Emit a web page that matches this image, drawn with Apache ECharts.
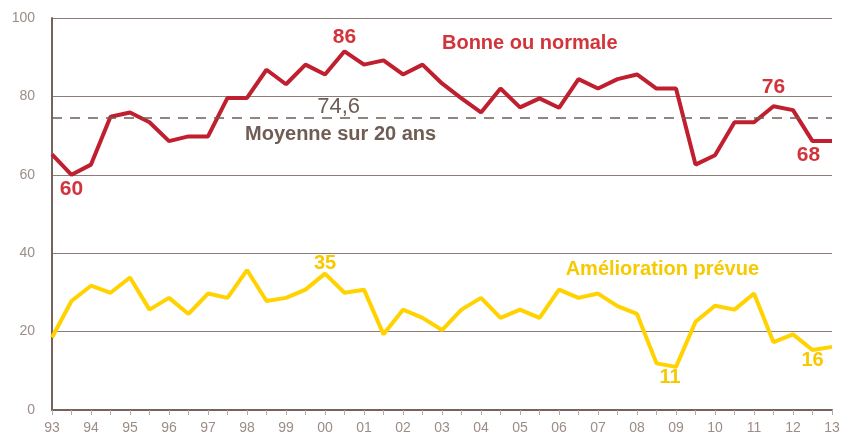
<!DOCTYPE html>
<html lang="fr">
<head>
    <meta charset="UTF-8">
    <title>Bonne ou normale / Amélioration prévue</title>
    <script src="https://cdn.jsdelivr.net/npm/echarts@6.0.0/dist/echarts.min.js"></script>
    <style>
        * {
            margin: 0;
            padding: 0;
            box-sizing: border-box;
        }

        body {
            background: #ffffff;
        }

        #chart {
            width: 852px;
            height: 437px;
        }
    </style>
</head>
<body>
    <div id="chart"></div>

    <script>
        // années (un point par semestre)
        const years = ['93', '94', '95', '96', '97', '98', '99', '00', '01', '02', '03',
                       '04', '05', '06', '07', '08', '09', '10', '11', '12', '13'];

        // Bonne ou normale
        const bonne = [65.2, 60, 62.6, 74.8, 75.9, 73.4, 68.6, 69.8, 69.8, 79.6, 79.6,
                       86.8, 83.1, 88.1, 85.6, 91.5, 88.1, 89.2, 85.6, 88.1, 83.3,
                       79.5, 75.9, 82.0, 77.2, 79.5, 77.1, 84.4, 82.0, 84.4, 85.6,
                       82.0, 82.0, 62.6, 65.0, 73.4, 73.4, 77.5, 76.5, 68.6, 68.6];

        // Amélioration prévue
        const amelioration = [18.5, 27.8, 31.7, 29.9, 33.8, 25.6, 28.6, 24.5, 29.7, 28.6, 35.7,
                              27.8, 28.6, 30.7, 34.8, 29.9, 30.7, 19.3, 25.6, 23.5, 20.4,
                              25.6, 28.6, 23.5, 25.6, 23.5, 30.7, 28.6, 29.7, 26.5, 24.5,
                              11.9, 11.0, 22.5, 26.6, 25.6, 29.7, 17.3, 19.3, 15.3, 16.1];

        const moyenne = 74.6;

        // étiquettes de valeurs (index du point -> texte)
        const bonneLabels = { 1: '60', 15: '86', 37: '76', 39: '68' };
        const ameliorationLabels = { 14: '35', 32: '11', 39: '16' };

        const RED = '#c01f30';
        const RED_TEXT = '#d1343b';
        const YELLOW = '#ffd200';
        const YELLOW_TEXT = '#f7c900';
        const BROWN = '#6f5d55';
        const FONT = '"Liberation Sans", Arial, sans-serif';

        // placement des étiquettes
        const labelStyle = {
            '60': { position: 'bottom', distance: 4 },
            '86': { position: 'top', distance: 4 },
            '76': { position: 'top', distance: 8 },
            '68': { position: 'bottom', distance: 4, offset: [-4, 0] },
            '35': { position: 'top', distance: 0 },
            '11': { position: 'bottom', distance: 1, offset: [-6, 0] },
            '16': { position: 'bottom', distance: 0 }
        };

        function buildData(values, labels, color, size) {
            return values.map((v, i) => {
                const item = { value: [i, v] };
                if (labels[i]) {
                    item.label = Object.assign({
                        show: true,
                        formatter: labels[i],
                        color: color,
                        fontSize: size,
                        fontWeight: 'bold',
                        fontFamily: FONT
                    }, labelStyle[labels[i]]);
                }
                return item;
            });
        }

        function note(text, coord, color, weight, size) {
            return {
                coord: coord,
                symbolSize: 0,
                label: {
                    show: true,
                    position: 'inside',
                    formatter: text,
                    color: color,
                    fontSize: size || 20,
                    fontWeight: weight,
                    fontFamily: FONT
                }
            };
        }

        const chart = echarts.init(document.getElementById('chart'), null, { renderer: 'canvas' });
        chart.setOption({
            animation: false,
            grid: {
                left: 52,
                right: 20,
                top: 18,
                bottom: 27
            },
            xAxis: {
                type: 'value',
                min: 0,
                max: 40,
                interval: 1,
                axisLine: {
                    show: true,
                    lineStyle: { color: '#76645c', width: 2 }
                },
                axisTick: {
                    show: true,
                    length: 5,
                    lineStyle: { color: '#b3a9a5', width: 1 }
                },
                axisLabel: {
                    margin: 11,
                    color: '#9c8d87',
                    fontSize: 14,
                    fontFamily: FONT,
                    formatter: v => (v % 2 === 0 ? years[v / 2] : '')
                },
                splitLine: { show: false }
            },
            yAxis: {
                type: 'value',
                min: 0,
                max: 100,
                interval: 20,
                axisLine: {
                    show: true,
                    lineStyle: { color: '#76645c', width: 2 }
                },
                axisTick: { show: false },
                axisLabel: {
                    margin: 17,
                    color: '#9c8d87',
                    fontSize: 14,
                    fontFamily: FONT
                },
                splitLine: {
                    show: true,
                    lineStyle: { color: '#8d7d77', width: 1 }
                }
            },
            series: [
                {
                    name: 'Bonne ou normale',
                    type: 'line',
                    data: buildData(bonne, bonneLabels, RED_TEXT, 21),
                    symbol: 'circle',
                    symbolSize: 0,
                    showSymbol: true,
                    showAllSymbol: true,
                    lineStyle: { color: RED, width: 4 },
                    itemStyle: { color: RED },
                    z: 3,
                    markLine: {
                        silent: true,
                        symbol: 'none',
                        label: { show: false },
                        lineStyle: { color: BROWN, width: 1.5, type: [10, 8] },
                        data: [{ yAxis: moyenne }]
                    },
                    markPoint: {
                        symbol: 'circle',
                        data: [
                            note('Bonne ou normale', [24.5, 93.5], RED_TEXT, 'bold'),
                            note('74,6', [14.7, 77.4], BROWN, 'normal', 22),
                            note('Moyenne sur 20 ans', [14.8, 70.4], BROWN, 'bold')
                        ]
                    }
                },
                {
                    name: 'Amélioration prévue',
                    type: 'line',
                    data: buildData(amelioration, ameliorationLabels, YELLOW_TEXT, 20),
                    symbol: 'circle',
                    symbolSize: 0,
                    showSymbol: true,
                    showAllSymbol: true,
                    lineStyle: { color: YELLOW, width: 4 },
                    itemStyle: { color: YELLOW },
                    z: 3,
                    markPoint: {
                        symbol: 'circle',
                        data: [
                            note('Amélioration prévue', [31.3, 35.9], YELLOW_TEXT, 'bold')
                        ]
                    }
                }
            ]
        });
    </script>
</body>
</html>
